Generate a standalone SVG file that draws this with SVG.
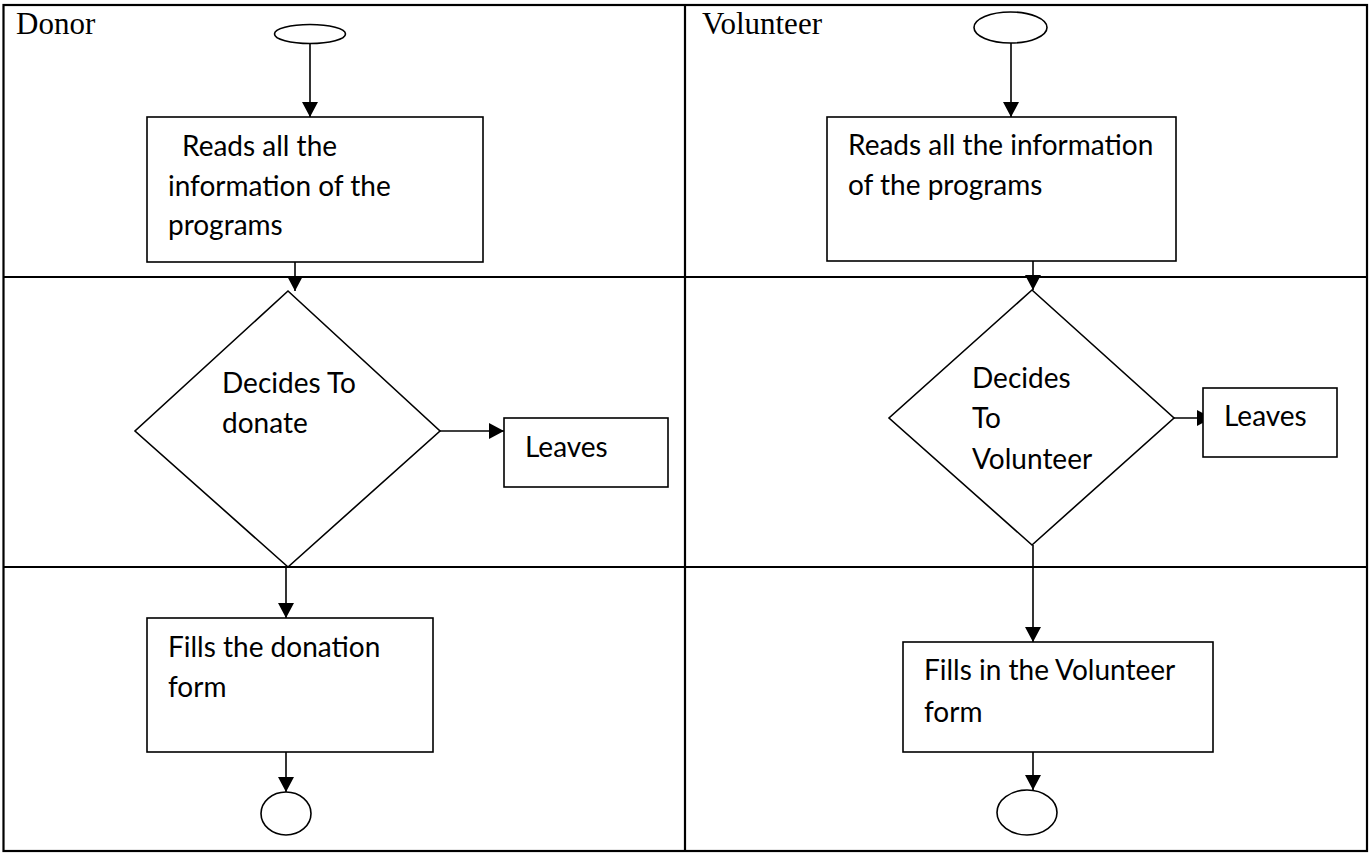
<svg xmlns="http://www.w3.org/2000/svg" width="1369" height="856" viewBox="0 0 1369 856">
<style>
.grid{stroke:#000;stroke-width:2.2;fill:none}
.shape{fill:#fff;stroke:#000;stroke-width:1.6}
.conn{stroke:#000;stroke-width:1.6;fill:none}
.lane{font-family:"Liberation Serif","Times New Roman",serif;font-size:31px;fill:#000}
.t{font-family:Lato,"Liberation Sans",sans-serif;font-size:28px;fill:#000}
</style>
<defs>
<marker id="ah" markerUnits="userSpaceOnUse" markerWidth="16" markerHeight="16" viewBox="0 0 16 16" refX="15" refY="8" orient="auto">
<path d="M0,0 L15,8 L0,16 Z" fill="#000"/>
</marker>
</defs>
<rect width="1369" height="856" fill="#fff"/>
<g id="table">
<rect class="grid" x="3.5" y="5" width="1363.5" height="846"/>
<line class="grid" x1="685" y1="5" x2="685" y2="851"/>
<line class="grid" x1="3.5" y1="277" x2="1367" y2="277"/>
<line class="grid" x1="3.5" y1="567" x2="1367" y2="567"/>
<text class="lane" x="16" y="34">Donor</text>
<text class="lane" x="702" y="34">Volunteer</text>
</g>
<g id="connectors">
<line class="conn" x1="310" y1="43" x2="310" y2="117" marker-end="url(#ah)"/>
<line class="conn" x1="295" y1="262" x2="295" y2="291" marker-end="url(#ah)"/>
<line class="conn" x1="440" y1="431" x2="504" y2="431" marker-end="url(#ah)"/>
<line class="conn" x1="286" y1="567" x2="286" y2="618" marker-end="url(#ah)"/>
<line class="conn" x1="286" y1="752" x2="286" y2="792" marker-end="url(#ah)"/>
<line class="conn" x1="1011" y1="43" x2="1011" y2="117" marker-end="url(#ah)"/>
<line class="conn" x1="1033" y1="261" x2="1033" y2="290" marker-end="url(#ah)"/>
<line class="conn" x1="1174" y1="418" x2="1212" y2="418" marker-end="url(#ah)"/>
<line class="conn" x1="1033" y1="545" x2="1033" y2="642" marker-end="url(#ah)"/>
<line class="conn" x1="1033" y1="752" x2="1033" y2="790" marker-end="url(#ah)"/>
</g>
<g id="donor-start"><ellipse class="shape" cx="310" cy="34" rx="35.5" ry="9.5"/></g>
<g id="donor-read">
<rect class="shape" x="147" y="117" width="336" height="145"/>
<text class="t" x="182" y="156">Reads all the</text>
<text class="t" x="168" y="196">information of the</text>
<text class="t" x="168" y="235">programs</text>
</g>
<g id="donor-decide">
<polygon class="shape" points="288,291 440,431 288,567 135,431"/>
<text class="t" x="222" y="393">Decides To</text>
<text class="t" x="222" y="433">donate</text>
</g>
<g id="donor-leaves">
<rect class="shape" x="504" y="418" width="164" height="69"/>
<text class="t" x="525" y="457">Leaves</text>
</g>
<g id="donor-fill">
<rect class="shape" x="147" y="618" width="286" height="134"/>
<text class="t" x="168" y="657">Fills the donation</text>
<text class="t" x="168" y="697">form</text>
</g>
<g id="donor-end"><ellipse class="shape" cx="286" cy="813.5" rx="25" ry="21.5"/></g>
<g id="vol-start"><ellipse class="shape" cx="1010.5" cy="27.5" rx="36.5" ry="15.5"/></g>
<g id="vol-read">
<rect class="shape" x="827" y="117" width="349" height="144"/>
<text class="t" x="848" y="155">Reads all the information</text>
<text class="t" x="848" y="195">of the programs</text>
</g>
<g id="vol-decide">
<polygon class="shape" points="1032,290 1174,418 1032,545 889,418"/>
<text class="t" x="972" y="388">Decides</text>
<text class="t" x="972" y="428">To</text>
<text class="t" x="972" y="469">Volunteer</text>
</g>
<g id="vol-leaves">
<rect class="shape" x="1203" y="388" width="134" height="69"/>
<text class="t" x="1224" y="426">Leaves</text>
</g>
<g id="vol-fill">
<rect class="shape" x="903" y="642" width="310" height="110"/>
<text class="t" x="924" y="680">Fills in the Volunteer</text>
<text class="t" x="924" y="722">form</text>
</g>
<g id="vol-end"><ellipse class="shape" cx="1027" cy="812.5" rx="30" ry="22.5"/></g>
</svg>
